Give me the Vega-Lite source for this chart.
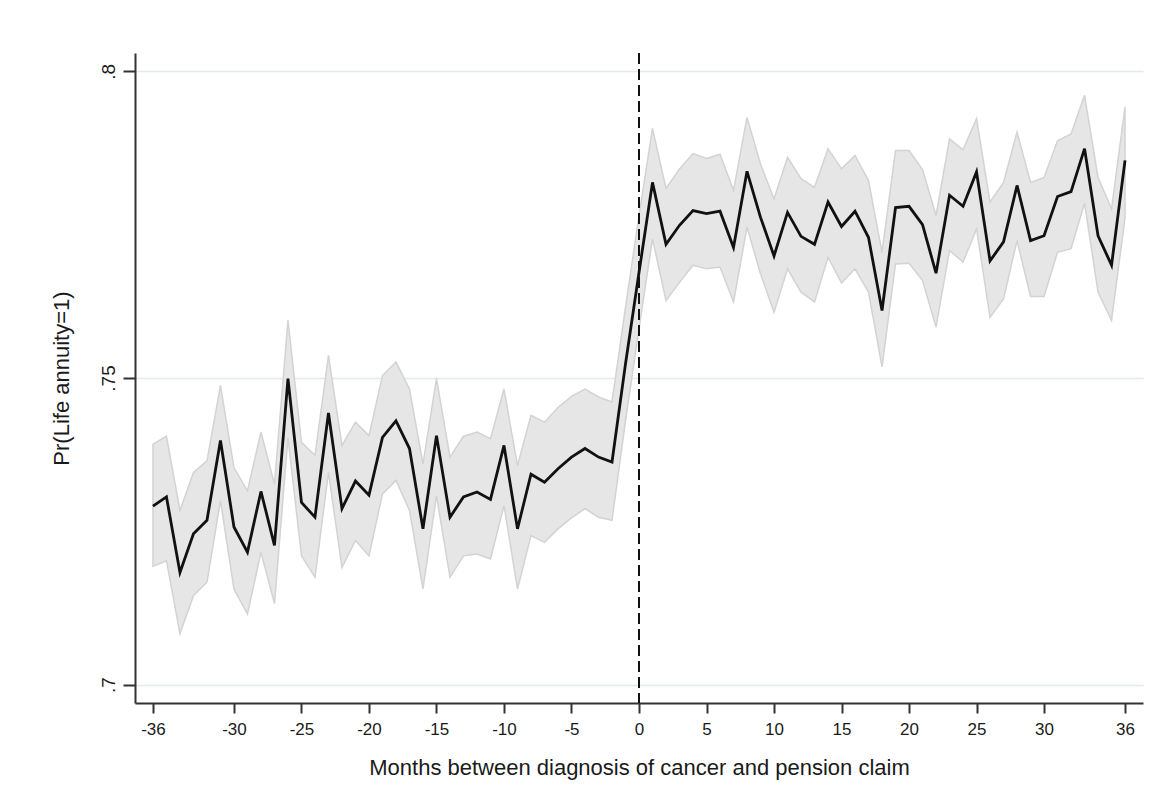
{
  "$schema": "https://vega.github.io/schema/vega-lite/v6.json",
  "width": 1008,
  "height": 650,
  "autosize": {"type": "none"},
  "padding": {"left": 135, "top": 53, "right": 31, "bottom": 101},
  "background": "white",
  "config": {
    "view": {"stroke": null},
    "font": "Liberation Sans",
    "axis": {
      "labelFont": "Liberation Sans",
      "titleFont": "Liberation Sans",
      "labelColor": "#1a1a1a",
      "titleColor": "#1a1a1a",
      "titleFontWeight": "normal",
      "domainColor": "#333333",
      "domainWidth": 2,
      "tickColor": "#333333",
      "tickWidth": 2
    }
  },
  "data": {
    "values": [
      {"m": -36, "est": 0.7291, "lo": 0.7193, "hi": 0.7392},
      {"m": -35, "est": 0.7306, "lo": 0.7202, "hi": 0.7405},
      {"m": -34, "est": 0.7183, "lo": 0.7083, "hi": 0.7284},
      {"m": -33, "est": 0.7246, "lo": 0.7145, "hi": 0.7346},
      {"m": -32, "est": 0.7268, "lo": 0.7167, "hi": 0.7365},
      {"m": -31, "est": 0.7398, "lo": 0.7300, "hi": 0.7488},
      {"m": -30, "est": 0.7257, "lo": 0.7156, "hi": 0.7354},
      {"m": -29, "est": 0.7216, "lo": 0.7115, "hi": 0.7316},
      {"m": -28, "est": 0.7315, "lo": 0.7216, "hi": 0.7412},
      {"m": -27, "est": 0.7227, "lo": 0.7132, "hi": 0.7327},
      {"m": -26, "est": 0.7499, "lo": 0.7403, "hi": 0.7594},
      {"m": -25, "est": 0.7297, "lo": 0.7210, "hi": 0.7395},
      {"m": -24, "est": 0.7273, "lo": 0.7175, "hi": 0.7374},
      {"m": -23, "est": 0.7443, "lo": 0.7346, "hi": 0.7537},
      {"m": -22, "est": 0.7287, "lo": 0.7191, "hi": 0.7390},
      {"m": -21, "est": 0.7332, "lo": 0.7235, "hi": 0.7428},
      {"m": -20, "est": 0.7309, "lo": 0.7210, "hi": 0.7406},
      {"m": -19, "est": 0.7403, "lo": 0.7311, "hi": 0.7504},
      {"m": -18, "est": 0.7430, "lo": 0.7333, "hi": 0.7526},
      {"m": -17, "est": 0.7385, "lo": 0.7284, "hi": 0.7482},
      {"m": -16, "est": 0.7254, "lo": 0.7156, "hi": 0.7360},
      {"m": -15, "est": 0.7406, "lo": 0.7308, "hi": 0.7499},
      {"m": -14, "est": 0.7273, "lo": 0.7175, "hi": 0.7371},
      {"m": -13, "est": 0.7306, "lo": 0.7210, "hi": 0.7405},
      {"m": -12, "est": 0.7314, "lo": 0.7213, "hi": 0.7412},
      {"m": -11, "est": 0.7302, "lo": 0.7205, "hi": 0.7401},
      {"m": -10, "est": 0.7390, "lo": 0.7292, "hi": 0.7482},
      {"m": -9, "est": 0.7254, "lo": 0.7156, "hi": 0.7357},
      {"m": -8, "est": 0.7343, "lo": 0.7243, "hi": 0.7439},
      {"m": -7, "est": 0.7330, "lo": 0.7232, "hi": 0.7428},
      {"m": -6, "est": 0.7352, "lo": 0.7254, "hi": 0.7452},
      {"m": -5, "est": 0.7371, "lo": 0.7272, "hi": 0.7470},
      {"m": -4, "est": 0.7385, "lo": 0.7287, "hi": 0.7482},
      {"m": -3, "est": 0.7371, "lo": 0.7273, "hi": 0.7469},
      {"m": -2, "est": 0.7363, "lo": 0.7268, "hi": 0.7461},
      {"m": -1, "est": 0.7523, "lo": 0.7430, "hi": 0.7615},
      {"m": 0, "est": 0.7672, "lo": 0.7580, "hi": 0.7765},
      {"m": 1, "est": 0.7819, "lo": 0.7727, "hi": 0.7907},
      {"m": 2, "est": 0.7718, "lo": 0.7626, "hi": 0.7809},
      {"m": 3, "est": 0.7749, "lo": 0.7656, "hi": 0.7841},
      {"m": 4, "est": 0.7773, "lo": 0.7684, "hi": 0.7866},
      {"m": 5, "est": 0.7768, "lo": 0.7678, "hi": 0.7858},
      {"m": 6, "est": 0.7772, "lo": 0.7681, "hi": 0.7865},
      {"m": 7, "est": 0.7713, "lo": 0.7624, "hi": 0.7806},
      {"m": 8, "est": 0.7837, "lo": 0.7746, "hi": 0.7925},
      {"m": 9, "est": 0.7762, "lo": 0.7670, "hi": 0.7849},
      {"m": 10, "est": 0.7699, "lo": 0.7607, "hi": 0.7792},
      {"m": 11, "est": 0.7770, "lo": 0.7678, "hi": 0.7860},
      {"m": 12, "est": 0.7731, "lo": 0.7640, "hi": 0.7825},
      {"m": 13, "est": 0.7718, "lo": 0.7624, "hi": 0.7811},
      {"m": 14, "est": 0.7787, "lo": 0.7697, "hi": 0.7874},
      {"m": 15, "est": 0.7747, "lo": 0.7655, "hi": 0.7841},
      {"m": 16, "est": 0.7772, "lo": 0.7678, "hi": 0.7863},
      {"m": 17, "est": 0.7729, "lo": 0.7640, "hi": 0.7822},
      {"m": 18, "est": 0.7610, "lo": 0.7518, "hi": 0.7705},
      {"m": 19, "est": 0.7778, "lo": 0.7686, "hi": 0.7871},
      {"m": 20, "est": 0.7780, "lo": 0.7687, "hi": 0.7871},
      {"m": 21, "est": 0.7750, "lo": 0.7659, "hi": 0.7840},
      {"m": 22, "est": 0.7671, "lo": 0.7583, "hi": 0.7765},
      {"m": 23, "est": 0.7798, "lo": 0.7708, "hi": 0.7890},
      {"m": 24, "est": 0.7780, "lo": 0.7689, "hi": 0.7872},
      {"m": 25, "est": 0.7836, "lo": 0.7743, "hi": 0.7923},
      {"m": 26, "est": 0.7691, "lo": 0.7599, "hi": 0.7787},
      {"m": 27, "est": 0.7722, "lo": 0.7629, "hi": 0.7819},
      {"m": 28, "est": 0.7814, "lo": 0.7724, "hi": 0.7901},
      {"m": 29, "est": 0.7724, "lo": 0.7633, "hi": 0.7819},
      {"m": 30, "est": 0.7732, "lo": 0.7633, "hi": 0.7827},
      {"m": 31, "est": 0.7796, "lo": 0.7705, "hi": 0.7887},
      {"m": 32, "est": 0.7804, "lo": 0.7711, "hi": 0.7898},
      {"m": 33, "est": 0.7874, "lo": 0.7785, "hi": 0.7961},
      {"m": 34, "est": 0.7732, "lo": 0.7640, "hi": 0.7827},
      {"m": 35, "est": 0.7684, "lo": 0.7594, "hi": 0.7776},
      {"m": 36, "est": 0.7855, "lo": 0.7762, "hi": 0.7942}
    ]
  },
  "encoding": {
    "x": {
      "field": "m",
      "type": "quantitative",
      "scale": {"domain": [-37.33, 37.33], "nice": false, "zero": false},
      "axis": {
        "title": "Months between diagnosis of cancer and pension claim",
        "values": [-36, -30, -25, -20, -15, -10, -5, 0, 5, 10, 15, 20, 25, 30, 36],
        "labelExpr": "datum.value < 0 ? '-' + abs(datum.value) : '' + datum.value",
        "grid": false,
        "tickSize": 10,
        "labelPadding": 8,
        "labelFontSize": 17,
        "titleFontSize": 22,
        "titlePadding": 20,
        "labelFlush": false
      }
    }
  },
  "layer": [
    {
      "mark": {"type": "area", "color": "#e6e6e6", "stroke": "#d3d3d3", "strokeWidth": 1.5, "opacity": 1},
      "encoding": {
        "y": {
          "field": "lo",
          "type": "quantitative",
          "scale": {"domain": [0.697, 0.803], "nice": false, "zero": false},
          "axis": {
            "title": "Pr(Life annuity=1)",
            "values": [0.7, 0.75, 0.8],
            "labelExpr": "replace(format(datum.value, '.2~f'), '0.', '.')",
            "grid": true,
            "gridColor": "#e0ebeb",
            "gridWidth": 1.5,
            "tickSize": 12,
            "labelPadding": 9,
            "labelAngle": -90,
            "labelAlign": "center",
            "labelBaseline": "alphabetic",
            "labelFontSize": 19,
            "titleFontSize": 22,
            "titlePadding": 26,
            "labelFlush": false
          }
        },
        "y2": {"field": "hi"}
      }
    },
    {
      "mark": {"type": "line", "color": "#111111", "strokeWidth": 2.8},
      "encoding": {
        "y": {"field": "est", "type": "quantitative"}
      }
    },
    {
      "mark": {"type": "rule", "color": "#111111", "strokeWidth": 2, "strokeDash": [11, 5]},
      "encoding": {
        "x": {"datum": 0}
      }
    }
  ]
}
